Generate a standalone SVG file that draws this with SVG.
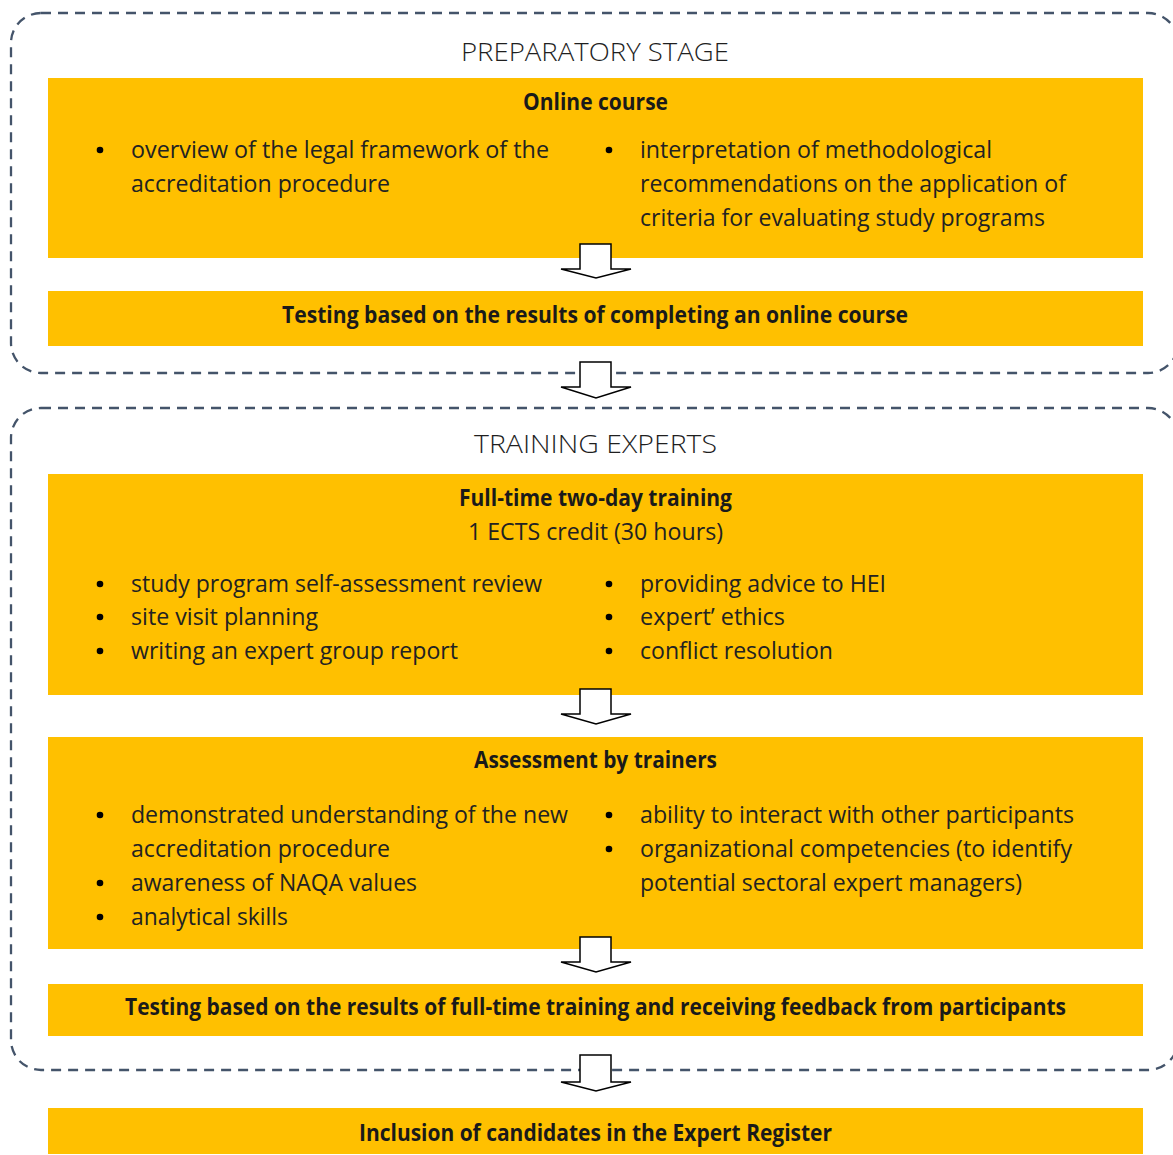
<svg xmlns="http://www.w3.org/2000/svg" width="1173" height="1155" viewBox="0 0 1173 1155">
<defs>
<style>
.stage{fill:none;stroke:#44546A;stroke-width:2.3;stroke-dasharray:10 7}
.box{fill:#FFC000}
.arrow{fill:#fff;stroke:#000;stroke-width:1.5;stroke-linejoin:miter}
text{font-family:"Open Sans","Liberation Sans",sans-serif;fill:#1a1a1a}
.st{font-size:26px;font-weight:300;fill:#1f1f1f}
.ti{font-size:23px;font-weight:700;text-anchor:start}
.tx{font-size:23px;font-weight:400;fill:#222}
.dot{fill:#000}
</style>
</defs>
<rect width="1173" height="1155" fill="#fff"/>
<g id="stage-preparatory">
<rect class="stage" x="11" y="13" width="1167" height="360" rx="30" ry="30"/>
<text class="st" x="461" y="61" textLength="268" lengthAdjust="spacingAndGlyphs">PREPARATORY STAGE</text>
</g>
<g id="stage-training">
<rect class="stage" x="11" y="408" width="1167" height="662" rx="30" ry="30"/>
<text class="st" x="474" y="453" textLength="243" lengthAdjust="spacingAndGlyphs">TRAINING EXPERTS</text>
</g>
<g id="node-online-course">
<rect class="box" x="48" y="78" width="1095" height="180"/>
<text class="ti" x="523" y="110" textLength="145" lengthAdjust="spacingAndGlyphs">Online course</text>
<circle class="dot" cx="100" cy="150" r="3.3"/>
<text class="tx" x="131" y="158" textLength="418" lengthAdjust="spacingAndGlyphs">overview of the legal framework of the</text>
<text class="tx" x="131" y="192" textLength="259" lengthAdjust="spacingAndGlyphs">accreditation procedure</text>
<circle class="dot" cx="609" cy="150" r="3.3"/>
<text class="tx" x="640" y="158" textLength="352" lengthAdjust="spacingAndGlyphs">interpretation of methodological</text>
<text class="tx" x="640" y="192" textLength="426" lengthAdjust="spacingAndGlyphs">recommendations on the application of</text>
<text class="tx" x="640" y="226" textLength="405" lengthAdjust="spacingAndGlyphs">criteria for evaluating study programs</text>
</g>
<g id="node-testing-online">
<rect class="box" x="48" y="291" width="1095" height="55"/>
<text class="ti" x="282" y="323" textLength="626" lengthAdjust="spacingAndGlyphs">Testing based on the results of completing an online course</text>
</g>
<g id="node-full-time-training">
<rect class="box" x="48" y="474" width="1095" height="221"/>
<text class="ti" x="459" y="506" textLength="273" lengthAdjust="spacingAndGlyphs">Full-time two-day training</text>
<text class="tx" x="468" y="540" textLength="255" lengthAdjust="spacingAndGlyphs">1 ECTS credit (30 hours)</text>
<circle class="dot" cx="100" cy="584" r="3.3"/>
<text class="tx" x="131" y="592" textLength="411" lengthAdjust="spacingAndGlyphs">study program self-assessment review</text>
<circle class="dot" cx="100" cy="617" r="3.3"/>
<text class="tx" x="131" y="625" textLength="187" lengthAdjust="spacingAndGlyphs">site visit planning</text>
<circle class="dot" cx="100" cy="651" r="3.3"/>
<text class="tx" x="131" y="659" textLength="327" lengthAdjust="spacingAndGlyphs">writing an expert group report</text>
<circle class="dot" cx="609" cy="584" r="3.3"/>
<text class="tx" x="640" y="592" textLength="246" lengthAdjust="spacingAndGlyphs">providing advice to HEI</text>
<circle class="dot" cx="609" cy="617" r="3.3"/>
<text class="tx" x="640" y="625" textLength="145" lengthAdjust="spacingAndGlyphs">expert’ ethics</text>
<circle class="dot" cx="609" cy="651" r="3.3"/>
<text class="tx" x="640" y="659" textLength="193" lengthAdjust="spacingAndGlyphs">conflict resolution</text>
</g>
<g id="node-assessment">
<rect class="box" x="48" y="737" width="1095" height="212"/>
<text class="ti" x="474" y="768" textLength="243" lengthAdjust="spacingAndGlyphs">Assessment by trainers</text>
<circle class="dot" cx="100" cy="815" r="3.3"/>
<text class="tx" x="131" y="823" textLength="437" lengthAdjust="spacingAndGlyphs">demonstrated understanding of the new</text>
<text class="tx" x="131" y="857" textLength="259" lengthAdjust="spacingAndGlyphs">accreditation procedure</text>
<circle class="dot" cx="100" cy="883" r="3.3"/>
<text class="tx" x="131" y="891" textLength="286" lengthAdjust="spacingAndGlyphs">awareness of NAQA values</text>
<circle class="dot" cx="100" cy="917" r="3.3"/>
<text class="tx" x="131" y="925" textLength="157" lengthAdjust="spacingAndGlyphs">analytical skills</text>
<circle class="dot" cx="609" cy="815" r="3.3"/>
<text class="tx" x="640" y="823" textLength="434" lengthAdjust="spacingAndGlyphs">ability to interact with other participants</text>
<circle class="dot" cx="609" cy="849" r="3.3"/>
<text class="tx" x="640" y="857" textLength="432" lengthAdjust="spacingAndGlyphs">organizational competencies (to identify</text>
<text class="tx" x="640" y="891" textLength="382" lengthAdjust="spacingAndGlyphs">potential sectoral expert managers)</text>
</g>
<g id="node-testing-fulltime">
<rect class="box" x="48" y="984" width="1095" height="52"/>
<text class="ti" x="125" y="1015" textLength="941" lengthAdjust="spacingAndGlyphs">Testing based on the results of full-time training and receiving feedback from participants</text>
</g>
<g id="node-inclusion">
<rect class="box" x="48" y="1108" width="1095" height="46"/>
<text class="ti" x="359" y="1141" textLength="473" lengthAdjust="spacingAndGlyphs">Inclusion of candidates in the Expert Register</text>
</g>
<g id="connectors">
<path class="arrow" d="M580,244 H611 V269 H631 L596,278 L561,269 H580 Z"/>
<path class="arrow" d="M580,362 H611 V387 H631 L596,398 L561,387 H580 Z"/>
<path class="arrow" d="M580,689 H611 V714 H631 L596,724 L561,714 H580 Z"/>
<path class="arrow" d="M580,937 H611 V962 H631 L596,972 L561,962 H580 Z"/>
<path class="arrow" d="M580,1055 H611 V1082 H631 L596,1091 L561,1082 H580 Z"/>
</g>
</svg>
